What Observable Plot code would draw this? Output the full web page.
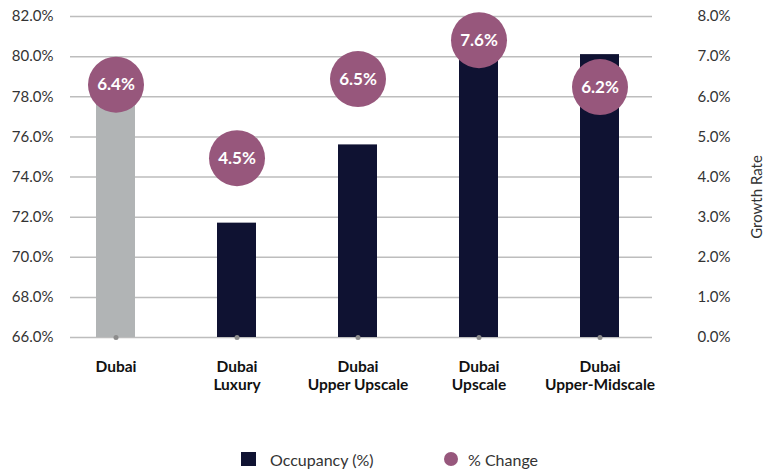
<!DOCTYPE html>
<html>
<head>
<meta charset="utf-8">
<script src="https://cdn.jsdelivr.net/npm/d3@7"></script>
<script src="https://cdn.jsdelivr.net/npm/@observablehq/plot@0.6"></script>
<style>
  html, body { margin: 0; padding: 0; background: #fff; }
  #chart { width: 766px; }
  .legend { position: relative; height: 31px; width: 766px; font-family: Lato, sans-serif; font-size: 16px; color: #333; }
  .legend .sw { position: absolute; }
  .legend .lbl { position: absolute; top: 19px; transform: translateY(-50%); }
</style>
</head>
<body>
<div id="chart"></div>
<script>
// Data
const categories = ["Dubai", "Dubai\nLuxury", "Dubai\nUpper Upscale", "Dubai\nUpscale", "Dubai\nUpper-Midscale"];
const occupancy = [78.0, 71.7, 75.6, 80.3, 80.1];
const growth = [6.3, 4.47, 6.44, 7.41, 6.24];
const growthLabels = ["6.4%", "4.5%", "6.5%", "7.6%", "6.2%"];
const leftTicks = [66, 68, 70, 72, 74, 76, 78, 80, 82];
const rightTicks = [0, 1, 2, 3, 4, 5, 6, 7, 8];
const barColors = ["#b1b4b5", "#0f1232", "#0f1232", "#0f1232", "#0f1232"];

const yMin = 66;
const toLeft = g => yMin + g * 2; // right axis (0–8%) mapped onto left (66–82%)

const rows = categories.map((c, i) => ({
  cat: c, occ: occupancy[i], g: growth[i], gl: growthLabels[i], color: barColors[i]
}));

const font = "Lato, sans-serif";

const chart = Plot.plot({
  width: 766,
  height: 440,
  marginTop: 16,
  marginBottom: 103,
  marginLeft: 70,
  marginRight: 114,
  style: { fontFamily: font, background: "#fff" },
  x: { domain: categories, range: [54.5, 660.5], paddingInner: 0.68, paddingOuter: 0.34, axis: null },
  y: { domain: [66, 82], axis: null },
  marks: [
    Plot.gridY(leftTicks, { stroke: "#bdbdbd", strokeOpacity: 1, strokeWidth: 1.5 }),
    Plot.axisY(leftTicks, {
      anchor: "left", tickSize: 0, tickPadding: 17,
      tickFormat: d => d.toFixed(1) + "%", fontSize: 15, fill: "#333", label: null
    }),
    Plot.axisY(rightTicks.map(toLeft), {
      anchor: "right", tickSize: 0, tickPadding: 45,
      tickFormat: d => ((d - yMin) / 2).toFixed(1) + "%", fontSize: 15, fill: "#333", label: null
    }),
    Plot.text(["Growth Rate"], {
      frameAnchor: "right", textAnchor: "middle", dx: 105, dy: 20, rotate: -90,
      fontSize: 15, fill: "#333", fontWeight: "normal"
    }),
    Plot.barY(rows, { x: "cat", y1: yMin, y2: "occ", fill: "color" }),
    Plot.dot(rows, { x: "cat", y: yMin, r: 2.5, fill: "#8c8c8c", stroke: null }),
    Plot.text(rows, {
      x: "cat", text: "cat", frameAnchor: "bottom", dy: 21, lineAnchor: "top",
      lineHeight: 1.2, fontSize: 15.5, fontWeight: "bold", fill: "#111"
    }),
    Plot.dot(rows, { x: "cat", y: d => toLeft(d.g), r: 28, fill: "#97577c", stroke: null }),
    Plot.text(rows, {
      x: "cat", y: d => toLeft(d.g), text: "gl",
      fontSize: 17, fontWeight: "bold", fill: "#fff"
    })
  ]
});

document.getElementById("chart").appendChild(chart);

// Legend (HTML, below the SVG)
const legend = document.createElement("div");
legend.className = "legend";
legend.innerHTML = `
  <div class="sw" style="left:241px; top:12px; width:15px; height:14px; background:#0f1232"></div>
  <div class="lbl" style="left:270px">Occupancy (%)</div>
  <div class="sw" style="left:444px; top:12px; width:14px; height:14px; border-radius:50%; background:#97577c"></div>
  <div class="lbl" style="left:468px">% Change</div>
`;
document.body.appendChild(legend);
</script>
</body>
</html>
